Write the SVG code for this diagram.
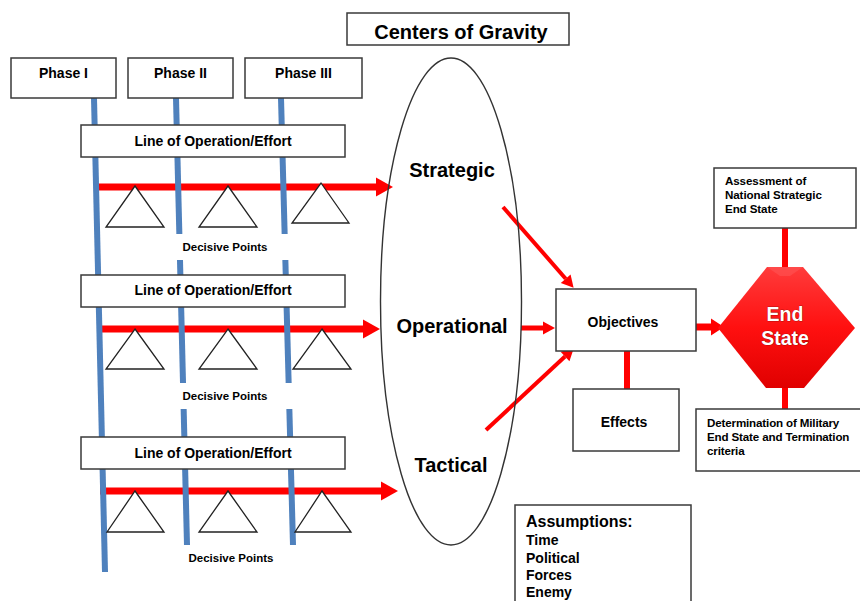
<svg xmlns="http://www.w3.org/2000/svg" width="860" height="601" viewBox="0 0 860 601">
<style>
.box{fill:#fff;stroke:#3a3a3a;stroke-width:1.5}
.tri{fill:#fff;stroke:#222;stroke-width:1.3}
.t{font-family:"Liberation Sans",Arial,sans-serif;font-weight:bold;fill:#000}
.blue{stroke:#4f81bd;stroke-width:6;fill:none}
.red{stroke:#ff0000;fill:none}
.lbl{fill:#fff}
</style>
<defs>
<marker id="ahBig" markerUnits="userSpaceOnUse" orient="auto" refX="0" refY="0" overflow="visible">
<path d="M0,-9.5 L17,0 L0,9.5 z" fill="#ff0000"/>
</marker>
<marker id="ahMid" markerUnits="userSpaceOnUse" orient="auto" refX="0" refY="0" overflow="visible">
<path d="M0,-8.5 L13,0 L0,8.5 z" fill="#ff0000"/>
</marker>
<marker id="ahSmall" markerUnits="userSpaceOnUse" orient="auto" refX="0" refY="0" overflow="visible">
<path d="M0,-6.5 L12,0 L0,6.5 z" fill="#ff0000"/>
</marker>
<linearGradient id="endGrad" x1="0" y1="0" x2="0" y2="1">
<stop offset="0" stop-color="#ff3b3b"/>
<stop offset="0.5" stop-color="#ff1010"/>
<stop offset="1" stop-color="#e00000"/>
</linearGradient>
</defs>

<g id="connectors">
<line class="red" x1="98" y1="187" x2="376" y2="187" stroke-width="7" marker-end="url(#ahBig)"/>
<line class="red" x1="102" y1="329" x2="363" y2="329" stroke-width="7" marker-end="url(#ahBig)"/>
<line class="red" x1="100" y1="491" x2="381" y2="491" stroke-width="7" marker-end="url(#ahBig)"/>
<line class="blue" x1="94" y1="98" x2="105" y2="572"/>
<line class="blue" x1="176" y1="98" x2="187" y2="545"/>
<line class="blue" x1="281" y1="98" x2="293" y2="545"/>
<line class="red" x1="503" y1="207" x2="565.7" y2="278.7" stroke-width="4" marker-end="url(#ahSmall)"/>
<line class="red" x1="521" y1="328" x2="543" y2="328" stroke-width="5" marker-end="url(#ahSmall)"/>
<line class="red" x1="486" y1="430" x2="565" y2="356.5" stroke-width="4" marker-end="url(#ahSmall)"/>
<line class="red" x1="627" y1="351" x2="627" y2="389" stroke-width="6"/>
<line class="red" x1="696" y1="327" x2="711" y2="327" stroke-width="7" marker-end="url(#ahMid)"/>
<line class="red" x1="785" y1="228" x2="785" y2="268" stroke-width="6"/>
<line class="red" x1="785" y1="387" x2="785" y2="409" stroke-width="6"/>
</g>

<g id="phase1"><rect class="box" x="11" y="58" width="105" height="40"/><text class="t" x="63.5" y="78" font-size="14" text-anchor="middle">Phase I</text></g>
<g id="phase2"><rect class="box" x="128" y="58" width="105" height="40"/><text class="t" x="180.5" y="78" font-size="14" text-anchor="middle">Phase II</text></g>
<g id="phase3"><rect class="box" x="245" y="58" width="117" height="40"/><text class="t" x="303.5" y="78" font-size="14" text-anchor="middle">Phase III</text></g>

<g id="cog-title"><rect class="box" x="347" y="13" width="222" height="32"/><text class="t" x="461" y="39" font-size="20" text-anchor="middle">Centers of Gravity</text></g>

<g id="loe1"><rect class="box" x="81" y="125" width="264" height="32"/><text class="t" x="213" y="146" font-size="14" text-anchor="middle">Line of Operation/Effort</text></g>
<g id="loe2"><rect class="box" x="81" y="275" width="264" height="32"/><text class="t" x="213" y="295" font-size="14" text-anchor="middle">Line of Operation/Effort</text></g>
<g id="loe3"><rect class="box" x="81" y="437" width="264" height="32"/><text class="t" x="213" y="458" font-size="14" text-anchor="middle">Line of Operation/Effort</text></g>

<g id="dp1">
<polygon class="tri" points="135,186 164,227 106,227"/>
<polygon class="tri" points="228,186 257,227 199,227"/>
<polygon class="tri" points="321,183 349,223 292,223"/>
<rect class="lbl" x="128" y="234" width="192" height="26"/>
<text class="t" x="225" y="251" font-size="11.5" text-anchor="middle">Decisive Points</text>
</g>
<g id="dp2">
<polygon class="tri" points="135,329 164,369 106,369"/>
<polygon class="tri" points="228,329 257,369 199,369"/>
<polygon class="tri" points="322,329 351,369 293,369"/>
<rect class="lbl" x="128" y="383" width="192" height="26"/>
<text class="t" x="225" y="400" font-size="11.5" text-anchor="middle">Decisive Points</text>
</g>
<g id="dp3">
<polygon class="tri" points="135,491 164,532 107,532"/>
<polygon class="tri" points="228,491 257,532 199,532"/>
<polygon class="tri" points="322,491 351,532 295,532"/>
<text class="t" x="231" y="562" font-size="11.5" text-anchor="middle">Decisive Points</text>
</g>

<g id="centers-of-gravity">
<ellipse cx="451" cy="301.5" rx="70.5" ry="243.5" fill="none" stroke="#333" stroke-width="1.4"/>
<text class="t" x="452" y="177" font-size="20" text-anchor="middle">Strategic</text>
<text class="t" x="452" y="333" font-size="20" text-anchor="middle">Operational</text>
<text class="t" x="451" y="472" font-size="20" text-anchor="middle">Tactical</text>
</g>

<g id="objectives"><rect class="box" x="556" y="289" width="140" height="62"/><text class="t" x="623" y="327" font-size="14" text-anchor="middle">Objectives</text></g>
<g id="effects"><rect class="box" x="573" y="389" width="106" height="62"/><text class="t" x="624" y="427" font-size="14" text-anchor="middle">Effects</text></g>

<g id="end-state">
<polygon points="767,267 803,267 855,328 804,388 766,388 718,328" fill="url(#endGrad)"/>
<polygon points="767,267 803,267 790,276 780,276" fill="#ff5a5a" opacity="0.5"/>
<text x="785" y="321" font-family="Liberation Sans,Arial,sans-serif" font-weight="bold" font-size="19.5" fill="#fff" stroke="#7a0000" stroke-width="0.6" paint-order="stroke" text-anchor="middle">End</text>
<text x="785" y="345" font-family="Liberation Sans,Arial,sans-serif" font-weight="bold" font-size="19.5" fill="#fff" stroke="#7a0000" stroke-width="0.6" paint-order="stroke" text-anchor="middle">State</text>
</g>

<g id="assessment">
<rect class="box" x="714" y="168" width="142" height="60"/>
<text class="t" font-size="11.6" letter-spacing="-0.1"><tspan x="725" y="185">Assessment of</tspan><tspan x="725" y="199">National Strategic</tspan><tspan x="725" y="213">End State</tspan></text>
</g>

<g id="determination">
<rect class="box" x="696" y="409" width="170" height="62"/>
<text class="t" font-size="11.6" letter-spacing="-0.15"><tspan x="707" y="427">Determination of Military</tspan><tspan x="707" y="441">End State and Termination</tspan><tspan x="707" y="455">criteria</tspan></text>
</g>

<g id="assumptions">
<rect class="box" x="515" y="505" width="176" height="110"/>
<text class="t" x="526" y="527" font-size="16">Assumptions:</text>
<text class="t" font-size="14"><tspan x="526" y="545">Time</tspan><tspan x="526" y="563">Political</tspan><tspan x="526" y="580">Forces</tspan><tspan x="526" y="597">Enemy</tspan></text>
</g>
</svg>
